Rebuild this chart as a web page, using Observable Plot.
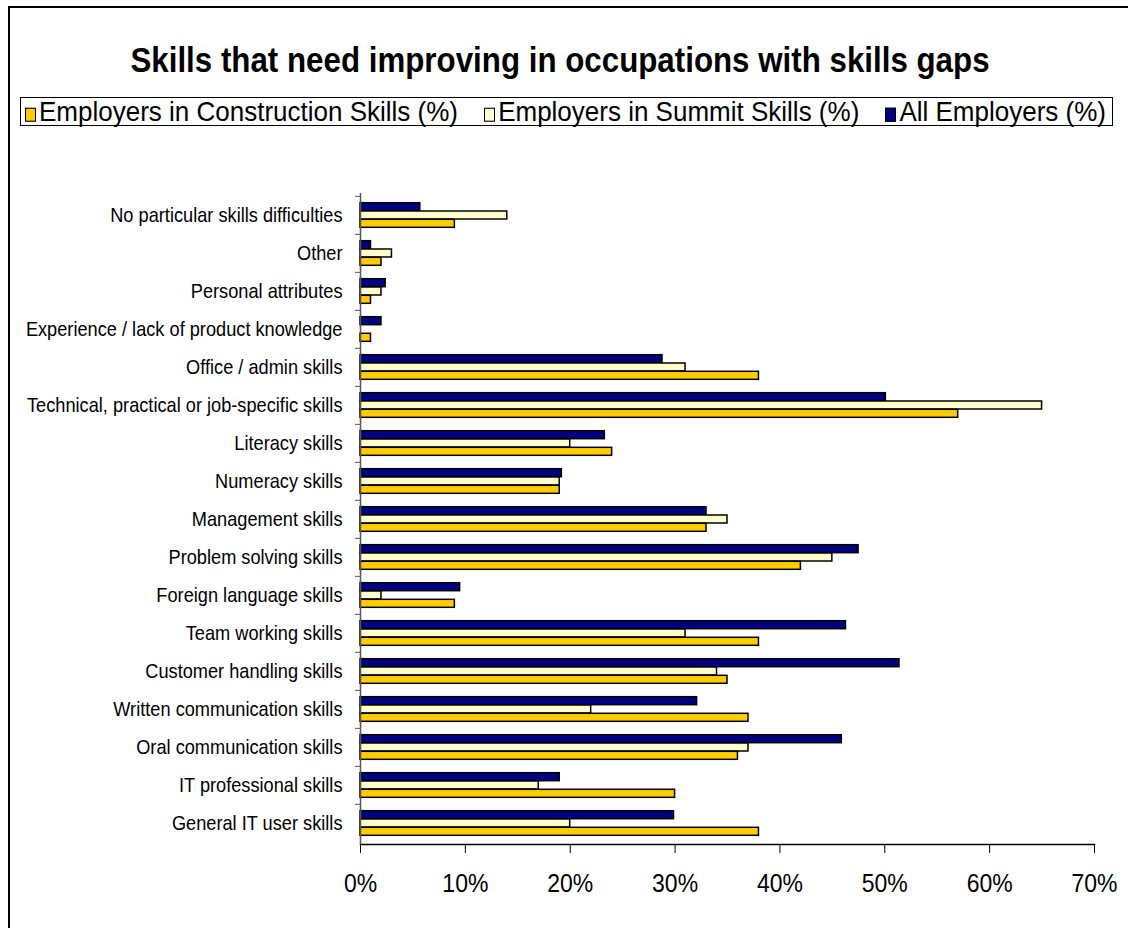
<!DOCTYPE html>
<html>
<head>
<meta charset="utf-8">
<script src="https://cdn.jsdelivr.net/npm/d3@7"></script>
<script src="https://cdn.jsdelivr.net/npm/@observablehq/plot@0.6"></script>
<style>
  html, body { margin: 0; padding: 0; background: #fff; }
  #wrap { position: relative; width: 1128px; height: 928px; overflow: hidden; font-family: "Liberation Sans", Arial, sans-serif; color: #000; }
  #frame { position: absolute; left: 8px; top: 6px; width: 1300px; height: 1100px; border: 2px solid #000; box-sizing: border-box; }
  #title { position: absolute; left: 0; top: 43px; width: 1120px; text-align: center; font-weight: bold; font-size: 31.3px; line-height: 36px; transform: scaleY(1.12); }
  #legend { position: absolute; left: 20px; top: 97px; width: 1093px; height: 29px; border: 1px solid #000; box-sizing: border-box; background: #fff;
            display: flex; align-items: center; justify-content: space-between; padding-left: 4px; padding-right: 6px; }
  .item { height: 27px; line-height: 27px; font-size: 26px; white-space: nowrap; transform: scaleY(1.08); }
  .sw { display: inline-block; width: 9px; height: 11px; border: 1px solid #000; margin-right: 3px; vertical-align: -1px; }
  #chart { position: absolute; left: 0; top: 140px; }
</style>
</head>
<body>
<div id="wrap">
  <div id="frame"></div>
  <div id="title"></div>
  <div id="legend"></div>
  <div id="chart"></div>
</div>
<script>
// ---- data ----
const titleText = "Skills that need improving in occupations with skills gaps";
const categories = [
  "No particular skills difficulties",
  "Other",
  "Personal attributes",
  "Experience / lack of product knowledge",
  "Office / admin skills",
  "Technical, practical or job-specific skills",
  "Literacy skills",
  "Numeracy skills",
  "Management skills",
  "Problem solving skills",
  "Foreign language skills",
  "Team working skills",
  "Customer handling skills",
  "Written communication skills",
  "Oral communication skills",
  "IT professional skills",
  "General IT user skills"
];
const seriesNames = ["Employers in Construction Skills (%)", "Employers in Summit Skills (%)", "All Employers (%)"];
const seriesColors = ["#FFCC00", "#FFFFCC", "#000080"];
const construction = [9, 2, 1, 1, 38, 57, 24, 19, 33, 42, 9, 38, 35, 37, 36, 30, 38];
const summit       = [14, 3, 2, 0, 31, 65, 20, 19, 35, 45, 2, 31, 34, 22, 37, 17, 20];
const allEmployers = [5.7, 1, 2.4, 2, 28.8, 50.1, 23.3, 19.2, 33, 47.5, 9.5, 46.3, 51.4, 32.1, 45.9, 19, 29.9];
const xTicks = [0, 10, 20, 30, 40, 50, 60, 70];

// ---- title & legend ----
document.getElementById("title").textContent = titleText;
const legend = document.getElementById("legend");
seriesNames.forEach((name, i) => {
  const it = document.createElement("span");
  it.className = "item";
  const sw = document.createElement("span");
  sw.className = "sw";
  sw.style.background = seriesColors[i];
  it.appendChild(sw);
  it.appendChild(document.createTextNode(name));
  legend.appendChild(it);
});

// ---- chart ----
const seriesValues = [construction, summit, allEmployers];
const rowsFor = (k) => categories.map((c, i) => ({category: c, value: seriesValues[k][i], series: seriesNames[k]}));

const H = 788, mTop = 53, mBottom = 84;
const band = (H - mTop - mBottom) / categories.length;
const barH = 8.3;
const inset = (band - barH) / 2;

const barOpts = (k, dy) => ({
  x: "value", y: "category", fill: seriesColors[k], stroke: "#000", strokeWidth: 1.5,
  insetTop: inset, insetBottom: inset, dy
});

const chart = Plot.plot({
  width: 1128,
  height: H,
  marginLeft: 360,
  marginRight: 34,
  marginTop: mTop,
  marginBottom: mBottom,
  style: {background: "transparent", color: "#000", fontFamily: '"Liberation Sans", Arial, sans-serif'},
  x: {domain: [0, 70], label: null},
  y: {domain: categories, padding: 0, label: null},
  marks: [
    Plot.barX(rowsFor(2), barOpts(2, -barH)),
    Plot.barX(rowsFor(1), barOpts(1, 0)),
    Plot.barX(rowsFor(0), barOpts(0, barH)),
    Plot.ruleX([0], {stroke: "#555", strokeWidth: 1.5}),
    Plot.frame({anchor: "bottom", stroke: "#000", strokeWidth: 1.5}),
    Plot.axisY({tickSize: 0, tickPadding: 18, fontSize: 18.2, label: null}),
    Plot.axisY({tickSize: 5, tickFormat: () => "", dy: -band / 2, stroke: "#555", label: null}),
    Plot.axisX({ticks: xTicks, tickFormat: d => d + "%", tickSize: 9, tickPadding: 20, fontSize: 23, label: null})
  ]
});
// stretch tick labels vertically a little, keeping their own placement
d3.select(chart)
  .selectAll('g[aria-label="y-axis tick label"] text, g[aria-label="x-axis tick label"] text')
  .attr("transform", function () { return (this.getAttribute("transform") || "") + " scale(1,1.15)"; });
document.getElementById("chart").appendChild(chart);
</script>
</body>
</html>
